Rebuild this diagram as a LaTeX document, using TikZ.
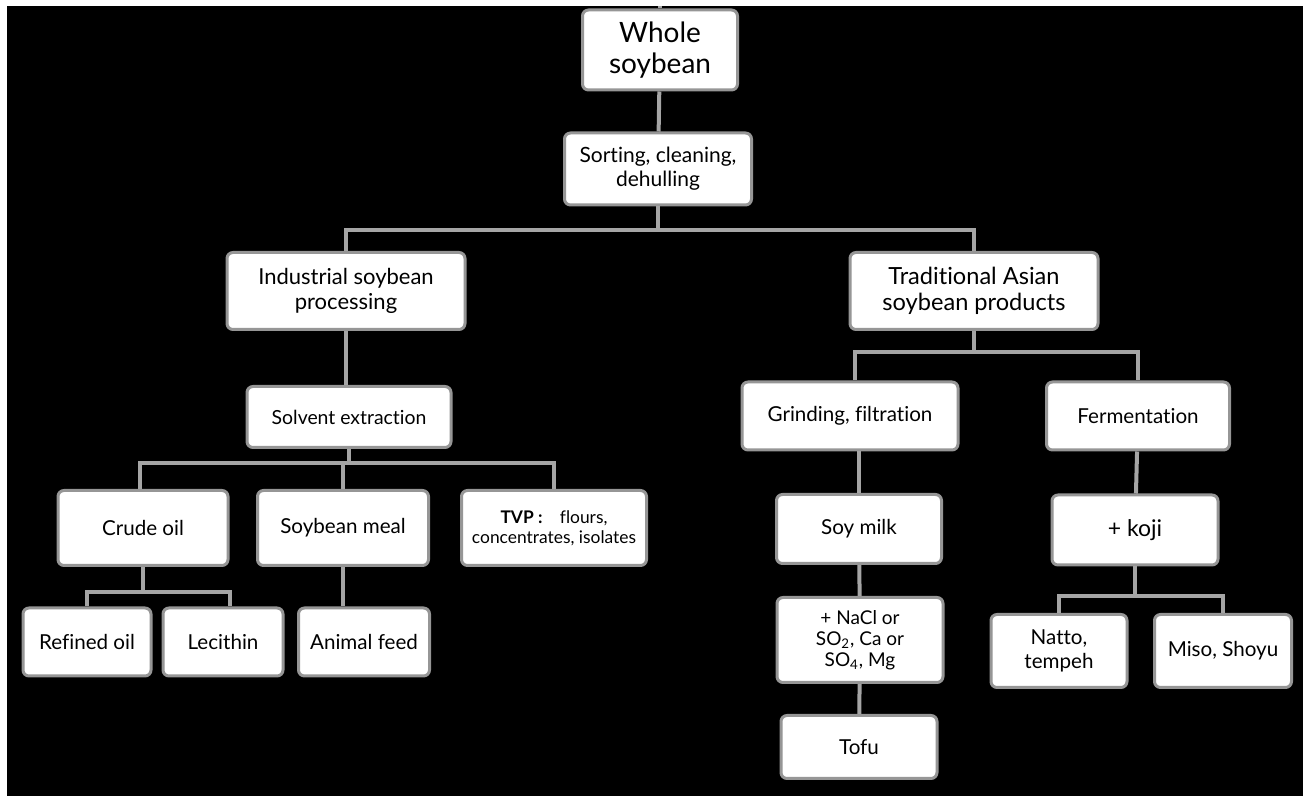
\documentclass[tikz,border=0pt]{standalone}
\usepackage{fontspec}
\setmainfont{Lato}[Ligatures=NoCommon]
\usepackage{tikz}
\usetikzlibrary{positioning,calc}

\definecolor{boxline}{RGB}{150,150,150}
\definecolor{linkgray}{RGB}{165,165,165}

\begin{document}
\begin{tikzpicture}[
  x=0.5pt, y=-0.5pt,
  box/.style 2 args={rectangle, rounded corners=3pt, draw=boxline, line width=1.5pt, fill=white,
    minimum width=#1*0.5pt, minimum height=#2*0.5pt, align=center, inner sep=1pt,
    font=\fontsize{11}{12.5}\selectfont},
  small/.style={font=\fontsize{10.3}{11.8}\selectfont},
  link/.style={draw=linkgray, line width=2pt}
]
  \useasboundingbox (0,0) rectangle (1303,796);
  \fill[white] (0,0) rectangle (1303,796);
  \fill[black] (7,6) rectangle (1303,796);

  % bends of the tree
  \coordinate (top) at (660,6);
  \coordinate (b1) at (658,230);
  \coordinate (b2) at (349,463);
  \coordinate (b3) at (143,592);
  \coordinate (b4) at (974,352);
  \coordinate (b5) at (1135,596);

  \node[box={155}{80}, font=\fontsize{14}{15.5}\selectfont] (whole) at (660,50) {Whole\\soybean};
  \node[box={187}{72}, font=\fontsize{10.5}{12}\selectfont] (sort) at (658,169) {Sorting, cleaning,\\dehulling};
  \node[box={238}{77}] (ind) at (346,291) {Industrial soybean\\processing};
  \node[box={248}{77}, font=\fontsize{11.8}{13}\selectfont] (trad) at (974,291) {Traditional Asian\\soybean products};

  \node[box={204}{61}, font=\fontsize{9.7}{11}\selectfont] (solv) at (349,417) {Solvent extraction};
  \node[box={170}{75}, small] (crude) at (143,528) {Crude oil};
  \node[box={171}{75}, small] (meal) at (343,528) {Soybean meal};
  \node[box={185}{75}, font=\fontsize{8.7}{10.2}\selectfont] (tvp) at (554,528) {\textbf{TVP :}\quad flours,\\concentrates, isolates};
  \node[box={128}{68}, small] (refined) at (87,642) {Refined oil};
  \node[box={120}{68}, small] (lec) at (223,642) {Lecithin};
  \node[box={131}{68}, small] (feed) at (364,642) {Animal feed};

  \node[box={216}{68}, small] (grind) at (850,416) {Grinding, filtration};
  \node[box={183}{68}, small] (ferm) at (1138,416) {Fermentation};
  \node[box={165}{69}, small] (milk) at (859,529) {Soy milk};
  \node[box={166}{85}, font=\fontsize{9.5}{10.5}\selectfont] (salt) at (860,640) {+ NaCl or\\SO\textsubscript{2}, Ca or\\SO\textsubscript{4}, Mg};
  \node[box={156}{63}, small] (tofu) at (859,747) {Tofu};
  \node[box={166}{70}, font=\fontsize{11.5}{13}\selectfont] (koji) at (1135,530) {+\ koji};
  \node[box={136}{73}, small] (natto) at (1059,651) {Natto,\\tempeh};
  \node[box={137}{73}, small] (miso) at (1223,651) {Miso, Shoyu};

  \draw[link] (whole) -- (top);
  \draw[link] (whole) -- (sort);
  \draw[link] (sort) -- (b1);
  \draw[link] (b1) -| (ind);
  \draw[link] (b1) -| (trad);
  \draw[link] (ind) -- (solv.north -| ind.south);
  \draw[link] (solv) -- (b2);
  \draw[link] (b2) -| ($(crude.north)+(-3,0)$);
  \draw[link] (b2) -| (meal);
  \draw[link] (b2) -| (tvp);
  \draw[link] (crude) -- (b3);
  \draw[link] (b3) -| (refined);
  \draw[link] (b3) -| ($(lec.north)+(7,0)$);
  \draw[link] (meal) -- (meal.south |- feed.north);
  \draw[link] (trad) -- (b4);
  \draw[link] (b4) -| ($(grind.north)+(5,0)$);
  \draw[link] (b4) -| (ferm);
  \draw[link] (grind.south -| milk.north) -- (milk);
  \draw[link] (milk) -- (salt);
  \draw[link] (salt) -- (tofu);
  \draw[link] (ferm) -- (koji);
  \draw[link] (koji) -- (b5);
  \draw[link] (b5) -| (natto);
  \draw[link] (b5) -| (miso);
\end{tikzpicture}
\end{document}
